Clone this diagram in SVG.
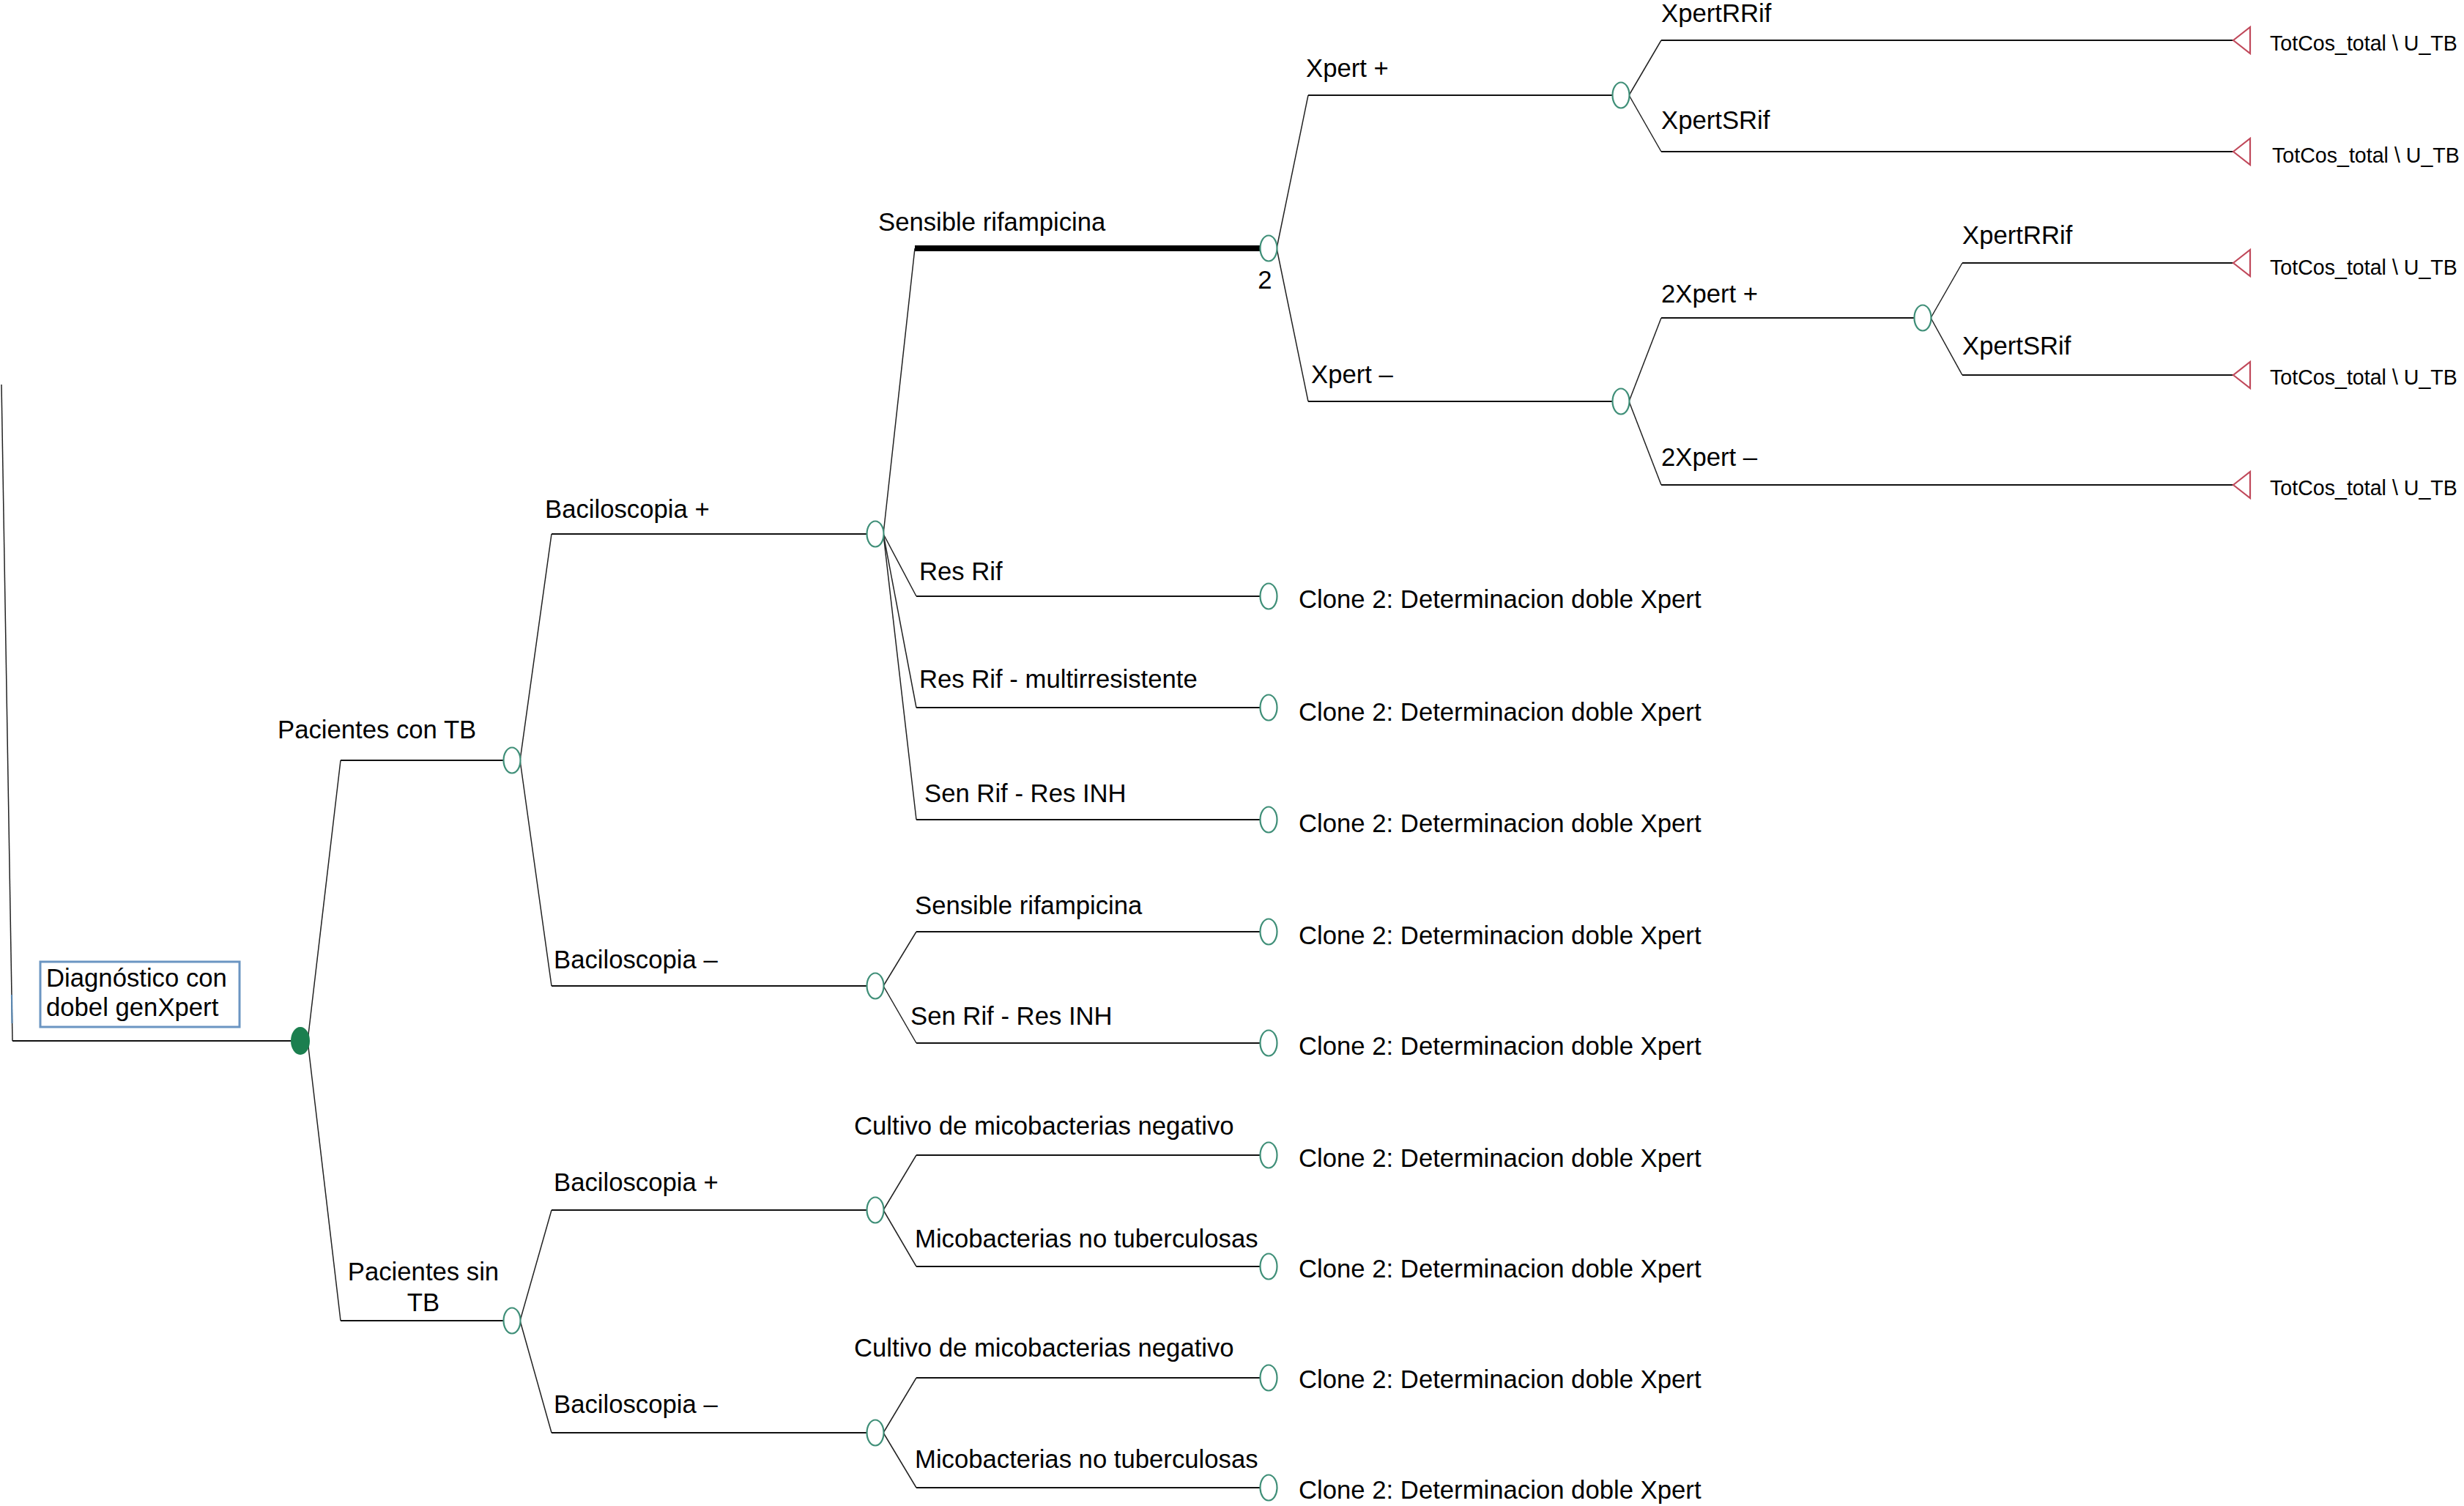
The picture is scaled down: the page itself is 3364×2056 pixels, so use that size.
<svg xmlns="http://www.w3.org/2000/svg" width="3364" height="2056" viewBox="0 0 3364 2056">
<style>
text{font-family:"Liberation Sans",Arial,Helvetica,sans-serif;font-size:34.7px;fill:#000}
.t{font-size:28.6px}
.h{fill:none;stroke:#111;stroke-width:2.2}
.d{fill:none;stroke:#222;stroke-width:1.5}
.c{fill:#fff;stroke:#3f8f78;stroke-width:2.2}
.tri{fill:#fff;stroke:#c0485a;stroke-width:2.2}
</style>
<rect width="3364" height="2056" fill="#fff"/>
<g id="connectors">
<path class="d" d="M2 525 L17 1421"/>
<path d="M16 1358 L16.5 1397" stroke="#5a87b0" stroke-width="2.2"/>
<path class="h" d="M17 1421 H398"/>
<path class="d" d="M420 1421 L465 1038"/><path class="h" d="M465 1038 H687"/>
<path class="d" d="M420 1421 L465 1803"/><path class="h" d="M465 1803 H687"/>
<path class="d" d="M710 1038 L753 729"/><path class="h" d="M753 729 H1183"/>
<path class="d" d="M710 1038 L753 1346"/><path class="h" d="M753 1346 H1183"/>
<path class="d" d="M710 1803 L753 1652"/><path class="h" d="M753 1652 H1183"/>
<path class="d" d="M710 1803 L753 1956"/><path class="h" d="M753 1956 H1183"/>
<path class="d" d="M1206 729 L1249 339"/><path d="M1249 339 H1720" stroke="#000" stroke-width="8" fill="none"/>
<path class="d" d="M1206 729 L1251 814"/><path class="h" d="M1251 814 H1720"/>
<path class="d" d="M1206 729 L1251 966"/><path class="h" d="M1251 966 H1720"/>
<path class="d" d="M1206 729 L1251 1119"/><path class="h" d="M1251 1119 H1720"/>
<path class="d" d="M1206 1346 L1251 1272"/><path class="h" d="M1251 1272 H1720"/>
<path class="d" d="M1206 1346 L1251 1424"/><path class="h" d="M1251 1424 H1720"/>
<path class="d" d="M1206 1652 L1251 1577"/><path class="h" d="M1251 1577 H1720"/>
<path class="d" d="M1206 1652 L1251 1729"/><path class="h" d="M1251 1729 H1720"/>
<path class="d" d="M1206 1956 L1251 1881"/><path class="h" d="M1251 1881 H1720"/>
<path class="d" d="M1206 1956 L1251 2031"/><path class="h" d="M1251 2031 H1720"/>
<path class="d" d="M1743 339 L1786 130"/><path class="h" d="M1786 130 H2201"/>
<path class="d" d="M1743 339 L1786 548"/><path class="h" d="M1786 548 H2201"/>
<path class="d" d="M2224 130 L2268 55"/><path class="h" d="M2268 55 H3049"/>
<path class="d" d="M2224 130 L2268 207"/><path class="h" d="M2268 207 H3049"/>
<path class="d" d="M2224 548 L2268 434"/><path class="h" d="M2268 434 H2613"/>
<path class="d" d="M2224 548 L2268 662"/><path class="h" d="M2268 662 H3049"/>
<path class="d" d="M2636 434 L2679 359"/><path class="h" d="M2679 359 H3049"/>
<path class="d" d="M2636 434 L2679 512"/><path class="h" d="M2679 512 H3049"/>
</g>
<g id="branch-labels">
<text x="379" y="1008">Pacientes con TB</text>
<text x="578" y="1748" text-anchor="middle">Pacientes sin</text>
<text x="578" y="1790" text-anchor="middle">TB</text>
<text x="744" y="707">Baciloscopia +</text>
<text x="756" y="1322">Baciloscopia –</text>
<text x="756" y="1626">Baciloscopia +</text>
<text x="756" y="1929">Baciloscopia –</text>
<text x="1199" y="315">Sensible rifampicina</text>
<text x="1727" y="394" text-anchor="middle">2</text>
<text x="1255" y="792">Res Rif</text>
<text x="1255" y="939">Res Rif - multirresistente</text>
<text x="1262" y="1095">Sen Rif - Res INH</text>
<text x="1249" y="1248">Sensible rifampicina</text>
<text x="1243" y="1399">Sen Rif - Res INH</text>
<text x="1166" y="1549">Cultivo de micobacterias negativo</text>
<text x="1249" y="1703">Micobacterias no tuberculosas</text>
<text x="1166" y="1852">Cultivo de micobacterias negativo</text>
<text x="1249" y="2004">Micobacterias no tuberculosas</text>
<text x="1783" y="105">Xpert +</text>
<text x="1790" y="523">Xpert –</text>
<text x="2268" y="30">XpertRRif</text>
<text x="2268" y="176">XpertSRif</text>
<text x="2268" y="413">2Xpert +</text>
<text x="2268" y="636">2Xpert –</text>
<text x="2679" y="333">XpertRRif</text>
<text x="2679" y="484">XpertSRif</text>
</g>
<g id="title">
<rect x="55" y="1313" width="272" height="89" fill="#fff" stroke="#6b95c2" stroke-width="3"/>
<text x="63" y="1347">Diagnóstico con</text>
<text x="63" y="1387">dobel genXpert</text>
</g>
<g id="root"><ellipse cx="410" cy="1421" rx="12" ry="18" fill="#1b7f4f" stroke="#1b7f4f" stroke-width="2"/></g>
<g id="n-con-tb"><ellipse class="c" cx="699" cy="1038" rx="11.5" ry="17.5"/></g>
<g id="n-sin-tb"><ellipse class="c" cx="699" cy="1803" rx="11.5" ry="17.5"/></g>
<g id="n-tb-bac-pos"><ellipse class="c" cx="1195" cy="729" rx="11.5" ry="17.5"/></g>
<g id="n-tb-bac-neg"><ellipse class="c" cx="1195" cy="1346" rx="11.5" ry="17.5"/></g>
<g id="n-sin-bac-pos"><ellipse class="c" cx="1195" cy="1652" rx="11.5" ry="17.5"/></g>
<g id="n-sin-bac-neg"><ellipse class="c" cx="1195" cy="1956" rx="11.5" ry="17.5"/></g>
<g id="n-sens-rif"><ellipse class="c" cx="1732" cy="339" rx="11.5" ry="17.5"/></g>
<g id="n-xpert-pos"><ellipse class="c" cx="2213" cy="130" rx="11.5" ry="17.5"/></g>
<g id="n-xpert-neg"><ellipse class="c" cx="2213" cy="548" rx="11.5" ry="17.5"/></g>
<g id="n-2xpert-pos"><ellipse class="c" cx="2625" cy="434" rx="11.5" ry="17.5"/></g>
<g id="clone-1"><ellipse class="c" cx="1732" cy="814" rx="11.5" ry="17.5"/><text x="1773" y="830">Clone 2: Determinacion doble Xpert</text></g>
<g id="clone-2"><ellipse class="c" cx="1732" cy="966" rx="11.5" ry="17.5"/><text x="1773" y="984">Clone 2: Determinacion doble Xpert</text></g>
<g id="clone-3"><ellipse class="c" cx="1732" cy="1119" rx="11.5" ry="17.5"/><text x="1773" y="1136">Clone 2: Determinacion doble Xpert</text></g>
<g id="clone-4"><ellipse class="c" cx="1732" cy="1272" rx="11.5" ry="17.5"/><text x="1773" y="1289">Clone 2: Determinacion doble Xpert</text></g>
<g id="clone-5"><ellipse class="c" cx="1732" cy="1424" rx="11.5" ry="17.5"/><text x="1773" y="1440">Clone 2: Determinacion doble Xpert</text></g>
<g id="clone-6"><ellipse class="c" cx="1732" cy="1577" rx="11.5" ry="17.5"/><text x="1773" y="1593">Clone 2: Determinacion doble Xpert</text></g>
<g id="clone-7"><ellipse class="c" cx="1732" cy="1729" rx="11.5" ry="17.5"/><text x="1773" y="1744">Clone 2: Determinacion doble Xpert</text></g>
<g id="clone-8"><ellipse class="c" cx="1732" cy="1881" rx="11.5" ry="17.5"/><text x="1773" y="1895">Clone 2: Determinacion doble Xpert</text></g>
<g id="clone-9"><ellipse class="c" cx="1732" cy="2031" rx="11.5" ry="17.5"/><text x="1773" y="2046">Clone 2: Determinacion doble Xpert</text></g>
<g id="term-1"><polygon class="tri" points="3049,55 3072,37 3072,73"/><text class="t" x="3099" y="69">TotCos_total \ U_TB</text></g>
<g id="term-2"><polygon class="tri" points="3049,207 3072,189 3072,225"/><text class="t" x="3102" y="222">TotCos_total \ U_TB</text></g>
<g id="term-3"><polygon class="tri" points="3049,359 3072,341 3072,377"/><text class="t" x="3099" y="375">TotCos_total \ U_TB</text></g>
<g id="term-4"><polygon class="tri" points="3049,512 3072,494 3072,530"/><text class="t" x="3099" y="525">TotCos_total \ U_TB</text></g>
<g id="term-5"><polygon class="tri" points="3049,662 3072,644 3072,680"/><text class="t" x="3099" y="676">TotCos_total \ U_TB</text></g>
</svg>
